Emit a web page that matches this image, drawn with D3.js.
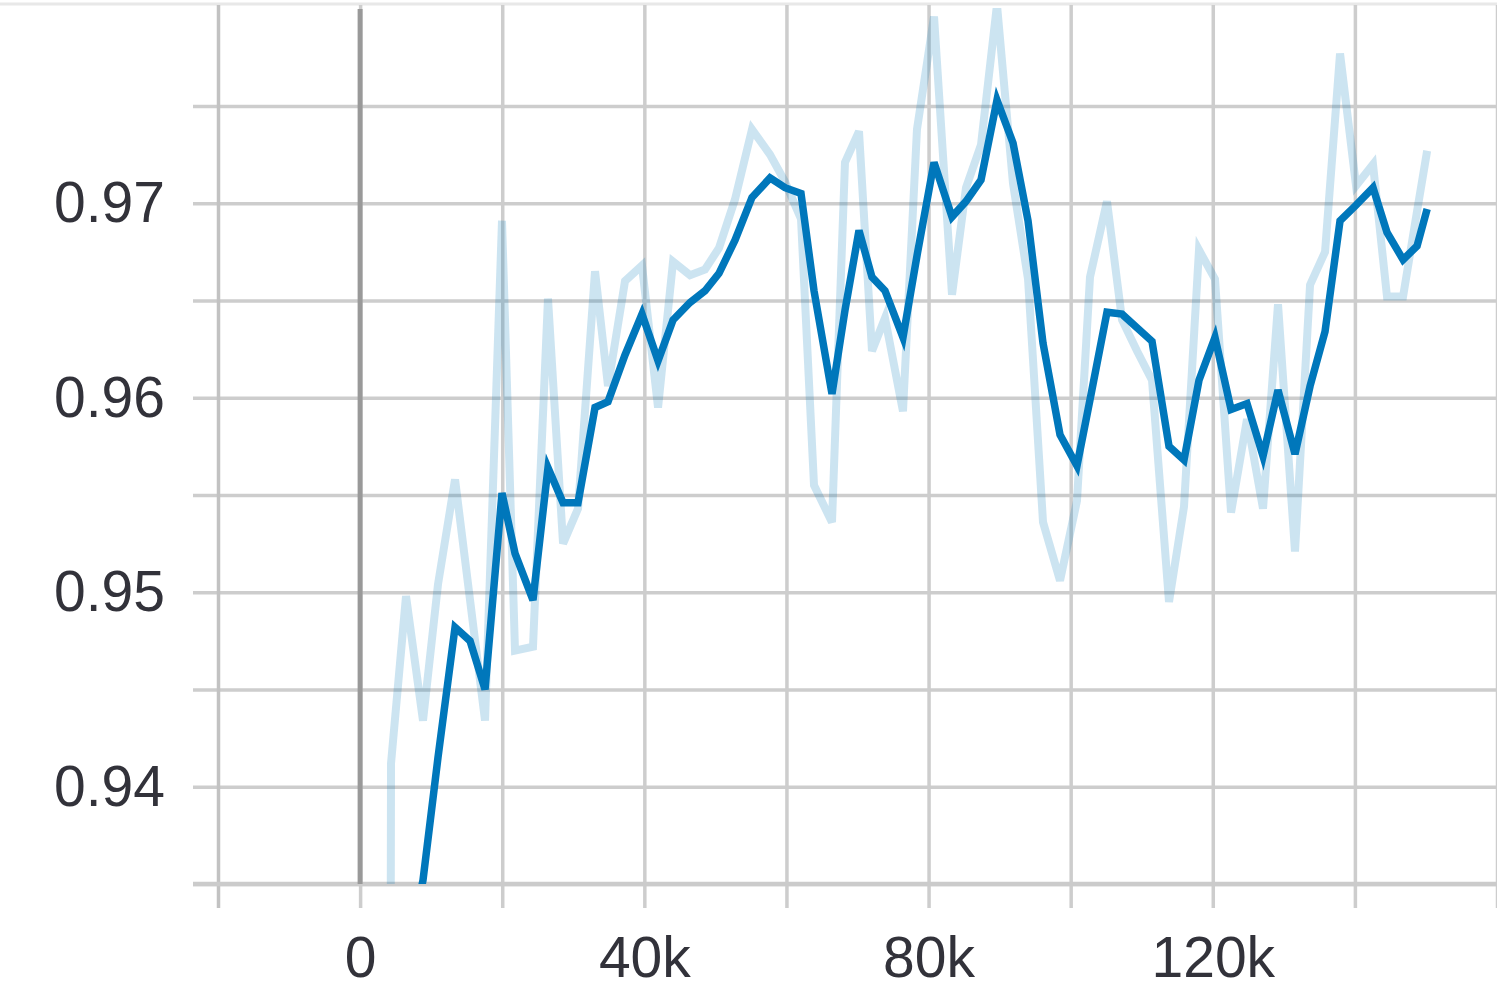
<!DOCTYPE html>
<html>
<head>
<meta charset="utf-8">
<script src="https://cdn.jsdelivr.net/npm/d3@7"></script>
<style>
  html, body { margin: 0; padding: 0; background: #fff; }
  svg { display: block; }
</style>
</head>
<body>
<svg id="chart" width="1497" height="989"></svg>
<script>
// ---- data ----
const steps = [0, 4350, 6460, 8850, 10960, 13360, 15470, 17580, 19970, 21800, 24330,
  26440, 28560, 30670, 33060, 34890, 37280, 39670, 41930, 44040, 46430,
  48540, 50510, 52760, 55150, 57690, 59800, 62050, 63880, 66410, 68240,
  70210, 72040, 73870, 76400, 78370, 80770, 83300, 85270, 87380, 89630,
  91890, 94000, 96110, 98500, 100890, 102720, 105110, 107230, 109340, 111450,
  113840, 115950, 118060, 120310, 122570, 124820, 127070, 129180, 131570, 133690,
  135800, 137910, 140160, 142550, 144520, 146780, 148750, 150170];

const rawValues = [0.1, 0.9412, 0.9498, 0.9434, 0.9504, 0.9558, 0.9496, 0.9434, 0.9691, 0.9470, 0.9472,
  0.9651, 0.9525, 0.9543, 0.9665, 0.9606, 0.9660, 0.9668, 0.9595, 0.9670, 0.9663,
  0.9666, 0.9677, 0.9702, 0.9738, 0.9725, 0.9711, 0.9692, 0.9555, 0.9536, 0.9721,
  0.9737, 0.9624, 0.9641, 0.9593, 0.9738, 0.9796, 0.9653, 0.9708, 0.9730, 0.9802,
  0.9710, 0.9661, 0.9536, 0.9506, 0.9547, 0.9662, 0.9701, 0.9640, 0.9624, 0.9609,
  0.9495, 0.9544, 0.9676, 0.9661, 0.9541, 0.9589, 0.9543, 0.9648, 0.9521, 0.9658,
  0.9675, 0.9777, 0.9709, 0.9720, 0.9652, 0.9652, 0.9696, 0.9727];

const smoothedValues = [0.1, 0.9000, 0.9308, 0.9352, 0.9415, 0.9482, 0.9475, 0.9450, 0.9551, 0.9520, 0.9496,
  0.9564, 0.9546, 0.9546, 0.9595, 0.9598, 0.9622, 0.9643, 0.9619, 0.9640, 0.9649,
  0.9655, 0.9664, 0.9681, 0.9703, 0.9713, 0.9708, 0.9705, 0.9655, 0.9602, 0.9645,
  0.9686, 0.9662, 0.9655, 0.9631, 0.9673, 0.9721, 0.9693, 0.9701, 0.9712, 0.9753,
  0.9731, 0.9691, 0.9628, 0.9581, 0.9565, 0.9599, 0.9644, 0.9643, 0.9636, 0.9629,
  0.9575, 0.9568, 0.9609, 0.9631, 0.9594, 0.9597, 0.9570, 0.9604, 0.9571, 0.9606,
  0.9634, 0.9691, 0.9699, 0.9708, 0.9685, 0.9671, 0.9678, 0.9697];

const xTicks = [-20000, 0, 20000, 40000, 60000, 80000, 100000, 120000, 140000, 160000];
const xTickLabels = { 0: "0", 40000: "40k", 80000: "80k", 120000: "120k" };
const yTicks = [0.935, 0.94, 0.945, 0.95, 0.955, 0.96, 0.965, 0.97, 0.975];
const yTickLabels = { "0.94": "0.94", "0.95": "0.95", "0.96": "0.96", "0.97": "0.97" };

// ---- chart ----
const svg = d3.select("#chart");
const W = 1497, H = 989;
const plotLeft = 218, plotRight = 1497, plotTop = 5, plotBottom = 884;

const x = d3.scaleLinear().domain([-20000, 160000]).range([218, 1497]);
const y = d3.scaleLinear().domain([0.935, 0.98]).range([884, 8.75]);

svg.append("rect").attr("width", W).attr("height", H).attr("fill", "#fff");

// top border
svg.append("line")
  .attr("x1", 0).attr("x2", W).attr("y1", 4).attr("y2", 4)
  .attr("stroke", "#e8e8e8").attr("stroke-width", 3);

const fontFam = "'Liberation Sans', Arial, Helvetica, sans-serif";

// horizontal grid + y labels
const yAxis = d3.axisLeft(y)
  .tickValues(yTicks)
  .tickSize(-(plotRight - 193))
  .tickPadding(28)
  .tickFormat(d => {
    const k = d.toFixed(3).replace(/0$/, "");
    return yTickLabels[k] || "";
  });
const gy = svg.append("g").attr("transform", "translate(193,0)").call(yAxis);
gy.select(".domain").remove();
gy.selectAll(".tick line").attr("stroke", "#cdcdcd").attr("stroke-width", 3.5);
gy.selectAll(".tick text")
  .attr("fill", "#32323a")
  .style("font-family", fontFam)
  .style("font-size", "57px");

// vertical grid + x labels
const xAxis = d3.axisBottom(x)
  .tickValues(xTicks)
  .tickSize(-(908 - plotTop))
  .tickPadding(29)
  .tickFormat(d => xTickLabels[d] || "");
const gx = svg.append("g").attr("transform", "translate(0,908)").call(xAxis);
gx.select(".domain").remove();
gx.selectAll(".tick line").attr("stroke", d => d === -20000 ? "#c2c2c2" : "#cdcdcd").attr("stroke-width", 3.5);
gx.selectAll(".tick text")
  .attr("fill", "#32323a")
  .style("font-family", fontFam)
  .style("font-size", "57px");

// bottom axis line
svg.append("line")
  .attr("x1", 193).attr("x2", plotRight).attr("y1", y(0.935)).attr("y2", y(0.935))
  .attr("stroke", "#cbcbcb").attr("stroke-width", 4.5);

// zero line
svg.append("line")
  .attr("x1", x(0)).attr("x2", x(0)).attr("y1", plotTop + 4).attr("y2", plotBottom)
  .attr("stroke", "#999999").attr("stroke-width", 5);

// clip
svg.append("defs").append("clipPath").attr("id", "plotclip")
  .append("rect").attr("x", plotLeft).attr("y", plotTop + 3)
  .attr("width", plotRight - plotLeft).attr("height", plotBottom - plotTop - 3);

const line = d3.line().x(d => x(d[0])).y(d => y(d[1])).curve(d3.curveLinear);
const rawData = steps.map((s, i) => [s, rawValues[i]]);
const smoothData = steps.map((s, i) => [s, smoothedValues[i]]);

const plot = svg.append("g").attr("clip-path", "url(#plotclip)");
plot.append("path").datum(rawData)
  .attr("d", line)
  .attr("fill", "none")
  .attr("stroke", "#0077bb")
  .attr("stroke-opacity", 0.2)
  .attr("stroke-width", 8);
plot.append("path").datum(smoothData)
  .attr("d", line)
  .attr("fill", "none")
  .attr("stroke", "#0077bb")
  .attr("stroke-width", 7.5);
</script>
</body>
</html>
